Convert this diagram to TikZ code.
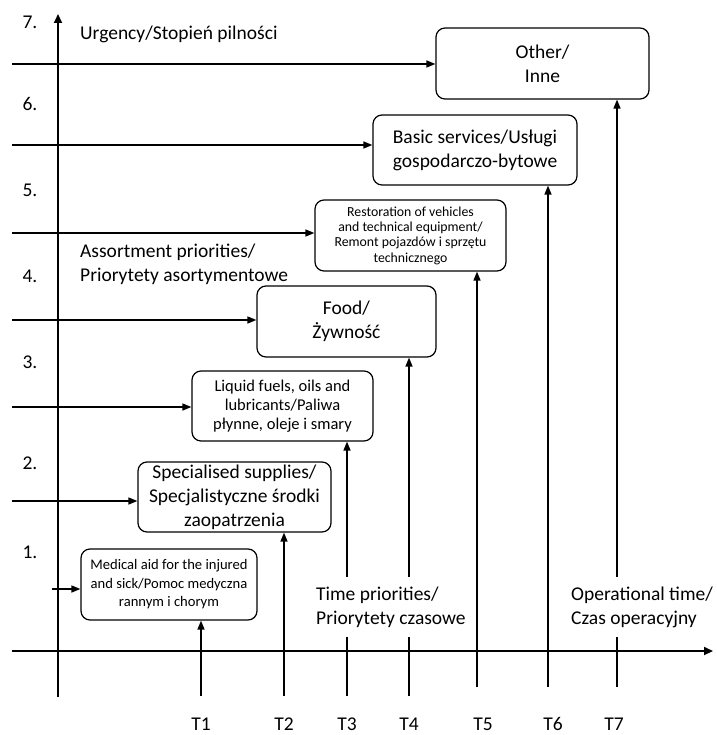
\documentclass[tikz,border=0pt]{standalone}
\usepackage{fontspec}
\setmainfont{Carlito}
\usetikzlibrary{arrows.meta}
\tikzset{
  box/.style={draw, line width=1.2pt, rounded corners=9pt, align=center, inner sep=0pt},
  arr/.style={line width=1.4pt, -{Triangle[length=9pt,width=7pt]}},
  axis/.style={line width=2pt, -{Triangle[length=9pt,width=8pt]}},
  big/.style={font=\fontsize{19.5}{24}\selectfont},
  lbl/.style={big, align=left, inner sep=0pt},
  cov/.style={big, align=left, fill=white, inner xsep=2pt, inner ysep=10pt},
  tl/.style={big, inner sep=0pt, anchor=base},
}
\begin{document}
\begin{tikzpicture}[x=1pt,y=-1pt]
\useasboundingbox (0,0) rectangle (716,735);
% boxes
\node[box, minimum width=176pt, minimum height=71pt, font=\fontsize{14.6}{18.5}\selectfont] (med) at (169,584.5) {Medical aid for the injured\\and sick/Pomoc medyczna\\rannym i chorym};
\node[box, big, minimum width=193pt, minimum height=70pt] (spec) at (234.5,497) {Specialised supplies/\\Specjalistyczne środki\\zaopatrzenia};
\node[box, minimum width=181pt, minimum height=70pt, font=\fontsize{16.5}{19}\selectfont] (liq) at (282.5,406) {Liquid fuels, oils and\\lubricants/Paliwa\\płynne, oleje i smary};
\node[box, big, minimum width=179pt, minimum height=71pt] (food) at (346.5,321.5) {Food/\\Żywność};
\node[box, minimum width=191pt, minimum height=71pt, font=\fontsize{13.8}{15.3}\selectfont] (rest) at (410.5,235.5) {Restoration of vehicles\\and technical equipment/\\Remont pojazdów i sprzętu\\technicznego};
\node[box, big, minimum width=204pt, minimum height=70pt] (basic) at (475,150) {Basic services/Usługi\\gospodarczo-bytowe};
\node[box, big, minimum width=213pt, minimum height=71pt] (other) at (542.5,63.5) {Other/\\Inne};
% axes
\coordinate (vb) at (58,697);
\coordinate (vt) at (58,14);
\coordinate (hl) at (12,651);
\coordinate (hr) at (713,651);
\draw[axis] (vb) -- (vt);
\draw[axis] (hl) -- (hr);
% horizontal arrows
\coordinate (s7) at (12,64);
\coordinate (s6) at (12,145);
\coordinate (s5) at (12,233);
\coordinate (s4) at (12,320);
\coordinate (s3) at (12,407);
\coordinate (s2) at (12,501);
\coordinate (s1) at (52,589);
\draw[arr] (s7) -- (s7 -| other.west);
\draw[arr] (s6) -- (s6 -| basic.west);
\draw[arr] (s5) -- (s5 -| rest.west);
\draw[arr] (s4) -- (s4 -| food.west);
\draw[arr] (s3) -- (s3 -| liq.west);
\draw[arr] (s2) -- (s2 -| spec.west);
\draw[arr] (s1) -- (s1 -| med.west);
% vertical arrows
\coordinate (b1) at (201,696);
\coordinate (b2) at (284,696);
\coordinate (b3) at (347,696);
\coordinate (b4) at (409,696);
\coordinate (b5) at (477,687);
\coordinate (b6) at (548,687);
\coordinate (b7) at (617,687);
\draw[arr] (b1) -- (b1 |- med.south);
\draw[arr] (b2) -- (b2 |- spec.south);
\draw[arr] (b3) -- (b3 |- liq.south);
\draw[arr] (b4) -- (b4 |- food.south);
\draw[arr] (b5) -- (b5 |- rest.south);
\draw[arr] (b6) -- (b6 |- basic.south);
\draw[arr] (b7) -- (b7 |- other.south);
% covering labels
\node[cov, anchor=west] (time) at (314,607) {Time priorities/\\Priorytety czasowe};
\node[cov, anchor=west] (oper) at (569,607) {Operational time/\\Czas operacyjny};
% other labels
\node[lbl, anchor=west] (urg) at (80,34) {Urgency/Stopień pilności};
\node[lbl, anchor=west] (ass) at (80,264) {Assortment priorities/\\Priorytety asortymentowe};
% numbers
\node[big] (n7) at (30,22) {7.};
\node[big] (n6) at (30,104) {6.};
\node[big] (n5) at (30,190) {5.};
\node[big] (n4) at (30,276) {4.};
\node[big] (n3) at (30,362) {3.};
\node[big] (n2) at (30,463) {2.};
\node[big] (n1) at (30,552) {1.};
% T labels
\node[tl] (t1) at (201,730) {T1};
\node[tl] (t2) at (284,730) {T2};
\node[tl] (t3) at (347,730) {T3};
\node[tl] (t4) at (409,730) {T4};
\node[tl] (t5) at (483,730) {T5};
\node[tl] (t6) at (553,730) {T6};
\node[tl] (t7) at (614,730) {T7};
\end{tikzpicture}
\end{document}
